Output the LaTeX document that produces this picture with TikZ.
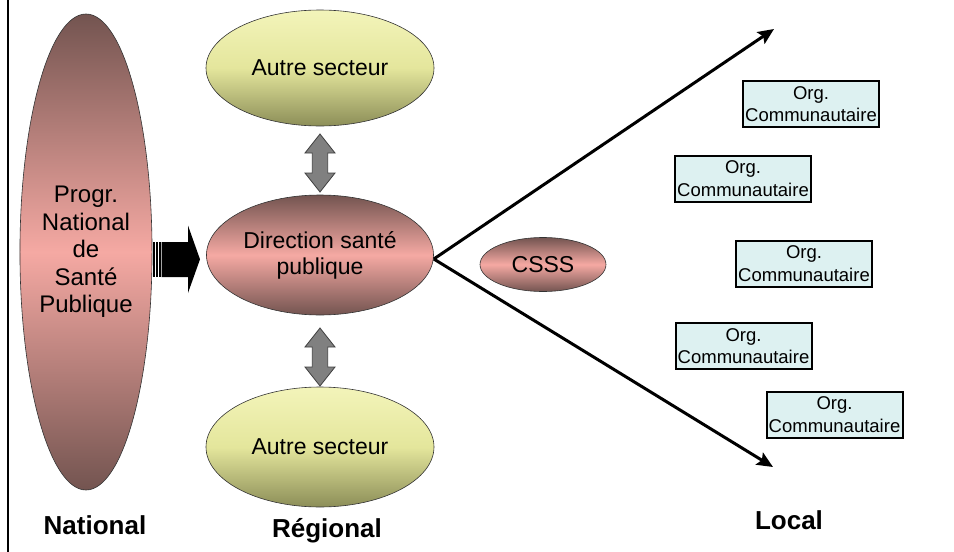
\documentclass[tikz,border=0pt]{standalone}
\usepackage{fontspec}
\setmainfont{Liberation Sans}
\usetikzlibrary{shapes.geometric,arrows.meta}
\definecolor{pinkM}{HTML}{F5A9A3}
\definecolor{brownB}{HTML}{735450}
\definecolor{yelT}{HTML}{F3F4BA}
\definecolor{yelM}{HTML}{E4E69C}
\definecolor{yelB}{HTML}{8C8E58}
\definecolor{boxfill}{HTML}{DDF1F1}
\definecolor{grayA}{HTML}{808080}
\begin{document}
\begin{tikzpicture}[x=1pt,y=-1pt,
  pinkell/.style={ellipse,draw=black!80,line width=0.6pt,inner sep=0pt,
    top color=brownB,bottom color=brownB,middle color=pinkM,align=center,
    font=\fontsize{23}{26}\selectfont},
  yelell/.style={ellipse,draw=black!80,line width=0.6pt,inner sep=0pt,
    top color=yelT,bottom color=yelB,middle color=yelM,align=center,
    font=\fontsize{23}{26}\selectfont},
  orgbox/.style={rectangle,draw=black,line width=2pt,fill=boxfill,inner sep=0pt,
    minimum width=136pt,minimum height=46pt,align=center,
    font=\fontsize{18.5}{22.5}\selectfont},
  levellabel/.style={anchor=base,font=\bfseries\fontsize{26}{30}\selectfont},
  bigarrow/.style={line width=3pt,-{Stealth[length=16pt,width=14pt,inset=3pt]}},
  dbl/.style={fill=grayA,draw=black!75,line width=0.8pt,line join=miter}
]
\useasboundingbox (0,0) rectangle (954,552);
% left border
\draw[line width=2pt] (8.3,0) -- (8.3,552);

% nodes
\node[pinkell,minimum width=122pt,minimum height=476pt,
  font=\fontsize{24}{27.5}\selectfont] (nat) at (86,252)
  {Progr.\\National\\de\\Santé\\Publique};
\node[pinkell,minimum width=227pt,minimum height=120pt] (dir) at (320,255)
  {Direction santé\\publique};
\node[yelell,minimum width=228pt,minimum height=116pt] (aut1) at (320,68) {Autre secteur};
\node[yelell,minimum width=228pt,minimum height=120pt] (aut2) at (320,447) {Autre secteur};
\node[pinkell,minimum width=126pt,minimum height=54pt] (csss) at (543,264.5) {CSSS};

\node[orgbox] (o1) at (811,104) {Org.\\Communautaire};
\node[orgbox] (o2) at (743,178.5) {Org.\\Communautaire};
\node[orgbox] (o3) at (804,263.5) {Org.\\Communautaire};
\node[orgbox] (o4) at (743.5,346) {Org.\\Communautaire};
\node[orgbox] (o5) at (834.5,414.5) {Org.\\Communautaire};

% level labels
\node[levellabel] (lnat) at (95,534) {National};
\node[levellabel] (lreg) at (327,537) {Régional};
\node[levellabel] (lloc) at (789,529) {Local};

% diverging arrows
\coordinate (tipU) at (774,29);
\coordinate (tipD) at (773,467);
\draw[bigarrow] ([yshift=-4pt]dir.east) -- (tipU);
\draw[bigarrow] ([yshift=-4pt]dir.east) -- (tipD);

% striped block arrow from national to regional
\fill (153.3,242) rectangle (155,277);
\fill (156.2,242) rectangle (157.8,277);
\fill (159,242) rectangle (160.6,277);
\fill (161.6,242) -- (188,242) -- (188,225.5) -- (200,259.3) -- (188,293) -- (188,277) -- (161.6,277) -- cycle;

% gray double arrows
\draw[dbl] (320,134) -- (335,153) -- (327.7,153) -- (327.7,173) -- (335,173)
  -- (320,192) -- (305,173) -- (312.3,173) -- (312.3,153) -- (305,153) -- cycle;
\draw[dbl] (320,328) -- (335,347) -- (327.7,347) -- (327.7,367) -- (335,367)
  -- (320,386) -- (305,367) -- (312.3,367) -- (312.3,347) -- (305,347) -- cycle;
\end{tikzpicture}
\end{document}
